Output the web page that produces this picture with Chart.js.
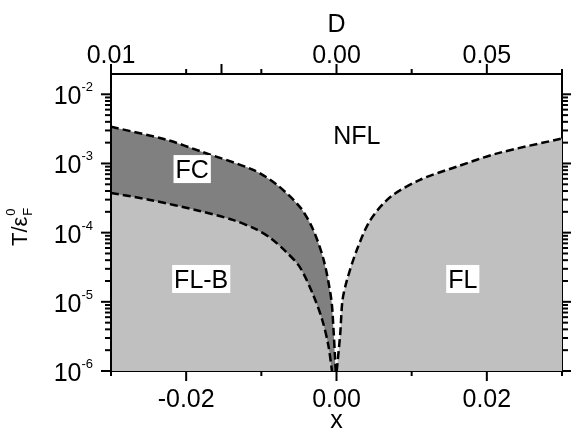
<!DOCTYPE html>
<html lang="en">
<head>
  <meta charset="UTF-8">
  <title>Phase diagram</title>
  <script src="https://cdn.jsdelivr.net/npm/chart.js"></script>
  <style>
    body { margin: 0; background: #fff; }
    canvas { display: block; }
  </style>
</head>
<body>
  <canvas id="phaseChart" width="571" height="432"></canvas>

  <script>
    // upper boundary of the FC region (FC / NFL)
    const upperLeftX = [-0.03, -0.0226, -0.0181, -0.011, -0.0079, -0.0048, -0.0031, -0.0017, -0.0007, -0.0004, -0.0002, -0.0001];
    const upperLeftT = [3.4e-3, 2.2e-3, 1.5e-3, 8.0e-4, 4.9e-4, 2.3e-4, 1.1e-4, 4.0e-5, 1.1e-5, 4.0e-6, 1.6e-6, 1.0e-6];

    // lower boundary (FL-B / FC)
    const lowerLeftX = [-0.03, -0.0248, -0.0182, -0.0138, -0.0108, -0.0088, -0.0068, -0.0049, -0.0031, -0.0019, -0.0011, -0.0006];
    const lowerLeftT = [3.75e-4, 2.97e-4, 2.06e-4, 1.53e-4, 1.13e-4, 8.4e-5, 5.4e-5, 3.2e-5, 1.26e-5, 5.5e-6, 2.4e-6, 1.0e-6];

    // right boundary (NFL / FL)
    const rightX = [0.00003, 0.0005, 0.0008, 0.0014, 0.0027, 0.0045, 0.0072, 0.0111, 0.016, 0.0214, 0.03];
    const rightT = [1.0e-6, 3.5e-6, 1.06e-5, 2.07e-5, 5.6e-5, 1.52e-4, 3.3e-4, 5.8e-4, 9.0e-4, 1.4e-3, 2.3e-3];

    // axis ticks
    const xMajorTicks = [-0.02, 0, 0.02];
    const xMajorLabels = ['-0.02', '0.00', '0.02'];
    const xMinorTicks = [-0.03, -0.01, 0.01, 0.03];
    const topMajorTicks = [-0.03, -0.0153, 0, 0.02];
    const topMajorLabels = ['0.01', '', '0.00', '0.05'];
    const topMinorTicks = [-0.02, -0.01, 0.01, 0.03];
    const yDecades = [-6, -5, -4, -3, -2];

    // region names
    const regionNames = ['NFL', 'FC', 'FL-B', 'FL'];
    const regionX = [0.0027, -0.0192, -0.018, 0.0168];
    const regionT = [2.6e-3, 8.3e-4, 2.14e-5, 2.14e-5];

    const FONT = '"Liberation Sans", Arial, sans-serif';
    const LIGHT = '#c0c0c0';
    const DARK = '#808080';

    function toPoints(xs, ys) {
      return xs.map((x, i) => ({ x: x, y: ys[i] }));
    }

    function line(ctx, x1, y1, x2, y2) {
      ctx.beginPath();
      ctx.moveTo(x1, y1);
      ctx.lineTo(x2, y2);
      ctx.stroke();
    }

    // frame: right and bottom sit under the fills, left and top on top
    const framePlugin = {
      id: 'frame',
      beforeDatasetsDraw(chart) {
        const { ctx, chartArea: a } = chart;
        ctx.save();
        ctx.strokeStyle = '#000';
        ctx.lineWidth = 2;
        line(ctx, a.right, a.top, a.right, a.bottom + 1);
        line(ctx, a.left, a.bottom, a.right + 1, a.bottom);
        ctx.restore();
      },
      afterDatasetsDraw(chart) {
        const { ctx, chartArea: a } = chart;
        const xs = chart.scales.x;
        const ys = chart.scales.y;
        ctx.save();
        ctx.strokeStyle = '#000';
        ctx.lineWidth = 2;
        line(ctx, a.left, a.top - 1, a.left, a.bottom + 1);
        line(ctx, a.left - 1, a.top, a.right + 1, a.top);

        // bottom ticks
        xMajorTicks.forEach(v => { const p = xs.getPixelForValue(v); line(ctx, p, a.bottom, p, a.bottom + 10); });
        xMinorTicks.forEach(v => { const p = xs.getPixelForValue(v); line(ctx, p, a.bottom, p, a.bottom + 5); });
        // top ticks
        topMajorTicks.forEach(v => { const p = xs.getPixelForValue(v); line(ctx, p, a.top, p, a.top - 10); });
        topMinorTicks.forEach(v => { const p = xs.getPixelForValue(v); line(ctx, p, a.top, p, a.top - 5); });
        // log ticks left and right
        yDecades.forEach(d => {
          const base = Math.pow(10, d);
          const p = ys.getPixelForValue(base);
          line(ctx, a.left, p, a.left - 10, p);
          line(ctx, a.right, p, a.right + 10, p);
          for (let k = 2; k <= 9; k++) {
            const v = k * base;
            if (v > ys.max) break;
            const q = ys.getPixelForValue(v);
            line(ctx, a.left, q, a.left - 6, q);
            line(ctx, a.right, q, a.right + 6, q);
          }
        });

        // tick labels
        ctx.fillStyle = '#000';
        ctx.textBaseline = 'alphabetic';
        ctx.textAlign = 'center';
        ctx.font = '25px ' + FONT;
        xMajorTicks.forEach((v, i) => ctx.fillText(xMajorLabels[i], xs.getPixelForValue(v), a.bottom + 36));
        topMajorTicks.forEach((v, i) => ctx.fillText(topMajorLabels[i], xs.getPixelForValue(v), a.top - 11));
        ctx.fillText('x', xs.getPixelForValue(0), 428);
        ctx.fillText('D', xs.getPixelForValue(0), 32);

        yDecades.forEach(d => {
          const p = ys.getPixelForValue(Math.pow(10, d));
          const exp = String(d);
          ctx.font = '13px ' + FONT;
          const ew = ctx.measureText(exp).width;
          ctx.textAlign = 'right';
          ctx.fillText(exp, 93, p - 3);
          ctx.font = '25px ' + FONT;
          ctx.fillText('10', 93 - ew, p + 10);
        });

        // y title T/eps_F^0
        ctx.save();
        ctx.translate(27, 246);
        ctx.rotate(-Math.PI / 2);
        ctx.textAlign = 'left';
        ctx.font = '22px ' + FONT;
        ctx.fillText('T/\u03b5', 0, 0);
        const tw = ctx.measureText('T/\u03b5').width;
        ctx.font = '13px ' + FONT;
        ctx.fillText('F', tw + 1, 5);
        ctx.fillText('0', tw + 1, -12);
        ctx.restore();

        // region names on white boxes
        ctx.font = '25px ' + FONT;
        ctx.textAlign = 'center';
        regionNames.forEach((name, i) => {
          const px = xs.getPixelForValue(regionX[i]);
          const py = ys.getPixelForValue(regionT[i]);
          const w = ctx.measureText(name).width;
          ctx.fillStyle = '#fff';
          ctx.fillRect(px - w / 2 - 2, py - 14, w + 4, 28);
          ctx.fillStyle = '#000';
          ctx.fillText(name, px, py + 9);
        });
        ctx.restore();
      }
    };

    const dashed = {
      borderColor: '#000',
      borderWidth: 2.5,
      borderDash: [8, 4],
      pointRadius: 0,
      tension: 0.3
    };

    new Chart(document.getElementById('phaseChart'), {
      type: 'line',
      data: {
        datasets: [
          Object.assign({ data: toPoints(lowerLeftX, lowerLeftT), fill: 'start', backgroundColor: LIGHT }, dashed),
          Object.assign({ data: toPoints(upperLeftX, upperLeftT), fill: 'start', backgroundColor: DARK }, dashed),
          Object.assign({ data: toPoints(rightX, rightT), fill: 'start', backgroundColor: LIGHT }, dashed),
          Object.assign({ data: toPoints([0.03, 0.03], [rightT[rightT.length - 1], 1e-6]), fill: false }, dashed)
        ]
      },
      options: {
        responsive: false,
        animation: false,
        devicePixelRatio: 1,
        layout: { padding: { left: 111, top: 74, right: 9, bottom: 61 } },
        plugins: { legend: { display: false }, tooltip: { enabled: false } },
        scales: {
          x: { type: 'linear', min: -0.03, max: 0.03, display: false },
          y: { type: 'logarithmic', min: 1e-6, max: 0.01965, display: false }
        }
      },
      plugins: [framePlugin]
    });
  </script>
</body>
</html>
